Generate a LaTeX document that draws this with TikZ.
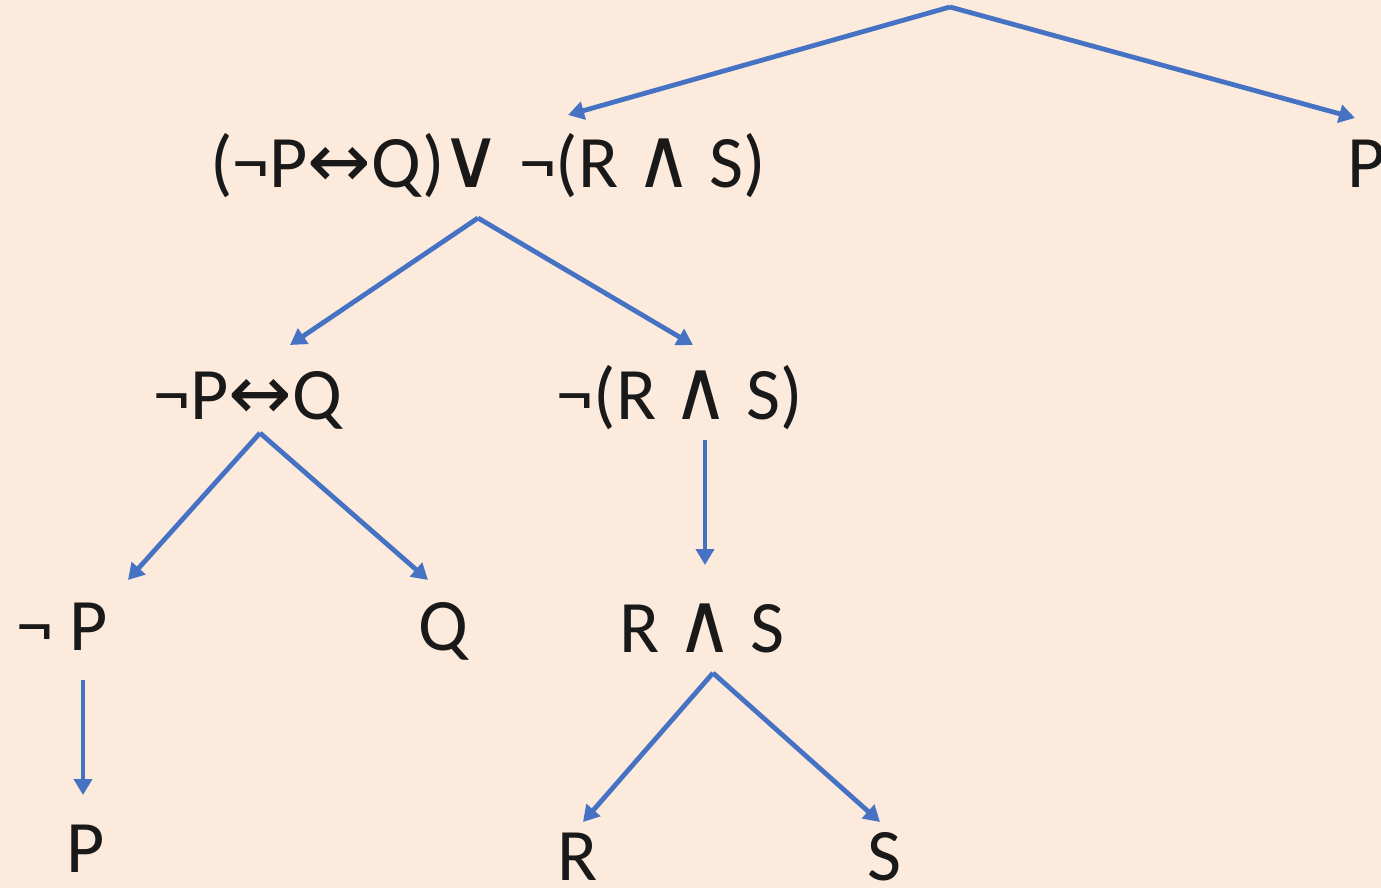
\documentclass[tikz,border=0pt]{standalone}
\usepackage{fontspec}
\setmainfont{Carlito}
\newfontfamily\symf{DejaVu Sans}
\usetikzlibrary{arrows.meta,calc}
\definecolor{bgpeach}{RGB}{252,234,220}
\definecolor{arrblue}{RGB}{70,114,196}
\definecolor{txt}{RGB}{25,25,25}
\newcommand\lra{{\symf\fontsize{38}{38}\selectfont ↔}}
\newcommand\andsym{\scalebox{1.3}[1.4]{\symf\fontsize{30}{30}\selectfont ∧}}
\newcommand\orsym{\scalebox{1.4}[1.4]{\symf\fontsize{30}{30}\selectfont ∨}}
\tikzset{
  lbl/.style={inner sep=0pt, anchor=base, text=txt, font=\fontsize{37}{44}\selectfont},
  arr/.style={draw=arrblue, line width=2.4pt, line join=round, -{Triangle[length=8pt,width=9pt]}}
}
\begin{document}
\begin{tikzpicture}[x=0.5pt,y=-0.5pt]
\fill[bgpeach] (0,0) rectangle (1381,888);
\useasboundingbox (0,0) rectangle (1381,888);
\coordinate (root) at (950,7);
\node[lbl] (l1) at (488,187) {(¬P\lra Q)\kern-2pt\orsym\ ¬(R \andsym\ S)};
\node[lbl, anchor=base west] (rp) at (1347,187) {P};
\node[lbl] (l2a) at (248,419) {¬P\lra Q};
\node[lbl] (l2b) at (680,419) {¬(R \andsym\ S)};
\node[lbl] (l3a) at (62,650) {¬ P};
\node[lbl] (l3b) at (443,650) {Q};
\node[lbl] (l3c) at (702,652) {R \andsym\ S};
\node[lbl] (l4a) at (86,872) {P};
\node[lbl] (l4b) at (578,880) {R};
\node[lbl] (l4c) at (884,880) {S};
\draw[arr] (root) -- ($(l1.base)+(80,-72)$);
\draw[arr] (root) -- ($(rp.base west)+(8,-69)$);
\draw[arr] ($(l1.base)+(-10,31)$) -- ($(l2a.base)+(42,-74)$);
\draw[arr] ($(l1.base)+(-10,31)$) -- ($(l2b.base)+(13,-74)$);
\draw[arr] ($(l2a.base)+(12,14)$) -- ($(l3a.base)+(66,-70)$);
\draw[arr] ($(l2a.base)+(12,14)$) -- ($(l3b.base)+(-15,-70)$);
\draw[arr] ($(l2b.base)+(25,21)$) -- ($(l3c.base)+(3,-87)$);
\draw[arr] ($(l3a.base)+(21,30)$) -- ($(l4a.base)+(-3,-77)$);
\draw[arr] ($(l3c.base)+(11,21)$) -- ($(l4b.base)+(5,-58)$);
\draw[arr] ($(l3c.base)+(11,21)$) -- ($(l4c.base)+(-4,-58)$);
\end{tikzpicture}
\end{document}
